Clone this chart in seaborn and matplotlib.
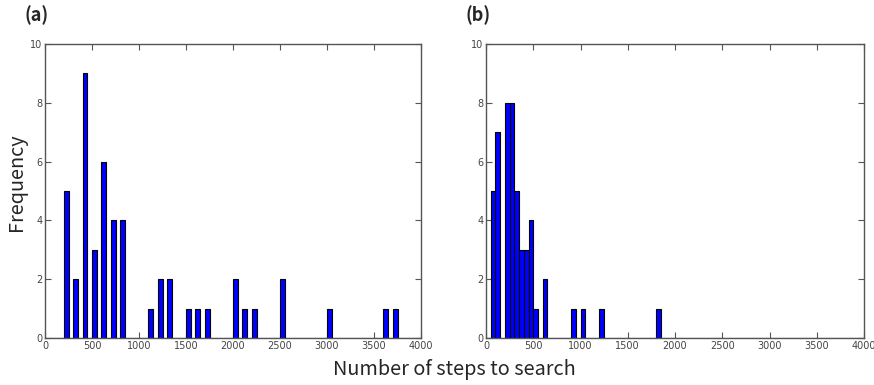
import pandas as pd
import matplotlib
matplotlib.use("Agg")
import matplotlib.pyplot as plt
import seaborn as sns

# step counts (left edge of each 50-wide bin) and how often they occur
steps_a = [200, 300, 400, 500, 600, 700, 800, 1100, 1200, 1300, 1500, 1600, 1700,
           2000, 2100, 2200, 2500, 3000, 3600, 3700]
freq_a = [5, 2, 9, 3, 6, 4, 4, 1, 2, 2, 1, 1, 1, 2, 1, 1, 2, 1, 1, 1]

steps_b = [50, 100, 200, 250, 300, 350, 400, 450, 500, 600, 900, 1000, 1200, 1800]
freq_b = [5, 7, 8, 8, 5, 3, 3, 4, 1, 2, 1, 1, 1, 1]

panel_labels = ["(a)", "(b)"]
x_ticks = [0, 500, 1000, 1500, 2000, 2500, 3000, 3500, 4000]
y_ticks = [0, 2, 4, 6, 8, 10]

sns.set_style("ticks")
plt.rcParams['font.family'] = ['Noto Sans CJK KR', 'DejaVu Sans']

fig = plt.figure(figsize=(8.74, 3.85), dpi=100)
ax_a = fig.add_axes([45/874, 1-338/385, 376/874, 294/385])
ax_b = fig.add_axes([486/874, 1-338/385, 378/874, 294/385])

for ax, s, f, lab in [(ax_a, steps_a, freq_a, panel_labels[0]),
                      (ax_b, steps_b, freq_b, panel_labels[1])]:
    df = pd.DataFrame({"steps": s, "freq": f})
    sns.histplot(data=df, x="steps", weights="freq", binwidth=50, binrange=(0, 4000),
                 ax=ax, color="#0000ff", edgecolor="black", linewidth=0.8, alpha=1)
    ax.set_xlim(0, 4000)
    ax.set_ylim(0, 10)
    ax.set_xticks(x_ticks)
    ax.set_yticks(y_ticks)
    ax.set_xlabel("")
    ax.set_ylabel("")
    ax.tick_params(direction="in", top=True, right=True, length=4,
                   labelsize=7, labelcolor="#444444", color="#555555", width=0.8, pad=2)
    for t in ax.get_xticklabels() + ax.get_yticklabels():
        t.set_family("DejaVu Sans")
    for sp in ax.spines.values():
        sp.set_color("#555555")
        sp.set_linewidth(1.0)
    ax.text(-0.055, 1.065, lab, transform=ax.transAxes, fontsize=13,
            fontweight="bold", ha="left", va="bottom")

fig.text(17/874, 1-182/385, "Frequency", rotation=90, fontsize=14.3,
         ha="center", va="center")
fig.text(454/874, 1-370/385, "Number of steps to search", fontsize=14.3,
         ha="center", va="center")

fig.savefig("out.png", dpi=100)
